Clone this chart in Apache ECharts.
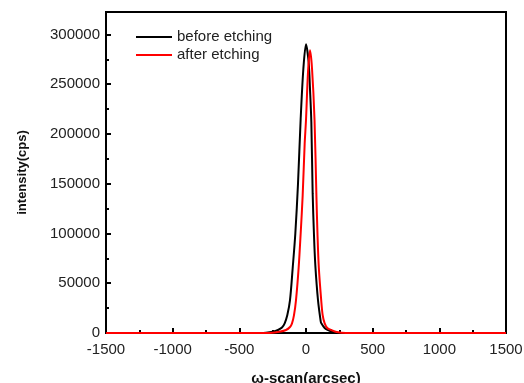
<!DOCTYPE html>
<html>
<head>
<meta charset="utf-8">
<script src="https://cdn.jsdelivr.net/npm/echarts@6/dist/echarts.min.js"></script>
<style>
    html, body { margin: 0; padding: 0; background: #fff; }
    #chart { width: 524px; height: 383px; }
</style>
</head>
<body>
<div id="chart"></div>
<script>
// ω-scan (arcsec) vs intensity (cps)
const beforeX = [-1500, -1000, -500, -350, -300, -250, -210, -180, -160, -140, -120, -100, -80, -60, -40, -20, 0, 20, 30, 40, 50, 60, 70, 90, 110, 115, 140, 165, 200, 250, 500, 1000, 1500];
const beforeY = [0, 0, 0, 0, 200, 1200, 3000, 5500, 9700, 18000, 33000, 65000, 100000, 150000, 215000, 265000, 290000, 272000, 245000, 212000, 140000, 98000, 68000, 33000, 12000, 9700, 5000, 3000, 1000, 0, 0, 0, 0];

const afterX = [-1500, -1000, -500, -300, -250, -200, -150, -120, -105, -90, -75, -55, -40, -25, -10, 0, 15, 30, 45, 64, 78, 86, 96, 114, 125, 140, 160, 190, 230, 300, 500, 1000, 1500];
const afterY = [0, 0, 0, 0, 300, 1200, 3000, 6000, 9700, 18000, 33000, 66000, 100000, 138000, 190000, 214000, 262000, 284000, 266000, 214000, 138000, 100000, 66000, 33000, 18000, 9700, 5000, 3000, 1000, 0, 0, 0, 0];

const seriesNames = ['before etching', 'after etching'];
const seriesColors = ['#000000', '#ff0000'];

const zip = (xs, ys) => xs.map((x, i) => [x, ys[i]]);

const chart = echarts.init(document.getElementById('chart'), null, { renderer: 'canvas' });

const labelFont = { color: '#222', fontSize: 15, fontFamily: 'Liberation Sans, Arial, sans-serif' };

chart.setOption({
    animation: false,
    backgroundColor: '#fff',
    grid: {
        left: 106,
        top: 12,
        right: 18,
        bottom: 50,
        outerBoundsMode: 'none',
        containLabel: false,
        show: true,
        borderColor: '#000',
        borderWidth: 2,
        backgroundColor: 'transparent'
    },
    legend: {
        left: 136,
        top: 28,
        padding: 0,
        orient: 'vertical',
        itemWidth: 36,
        itemHeight: 2,
        itemGap: 0,
        icon: 'rect',
        textStyle: { ...labelFont, lineHeight: 18, padding: [0, 0, 0, 0] },
        data: seriesNames
    },
    xAxis: {
        type: 'value',
        min: -1500,
        max: 1500,
        interval: 500,
        name: 'ω-scan(arcsec)',
        nameLocation: 'middle',
        nameGap: 38,
        nameTextStyle: { ...labelFont, fontSize: 15, fontWeight: 'bold', color: '#111' },
        axisLine: { onZero: false, lineStyle: { color: '#000', width: 2 } },
        axisTick: { inside: true, length: 5, lineStyle: { color: '#000', width: 2 } },
        minorTick: { show: true, splitNumber: 2, length: 3, lineStyle: { color: '#000', width: 2 } },
        axisLabel: { ...labelFont, margin: 9, formatter: v => String(v) },
        splitLine: { show: false }
    },
    yAxis: {
        type: 'value',
        min: 0,
        max: 322500,
        interval: 50000,
        name: 'intensity(cps)',
        nameLocation: 'middle',
        nameGap: 77,
        nameTextStyle: { ...labelFont, fontSize: 13, fontWeight: 'bold', color: '#111' },
        axisLine: { onZero: false, lineStyle: { color: '#000', width: 2 } },
        axisTick: { inside: true, length: 5, lineStyle: { color: '#000', width: 2 } },
        minorTick: { show: true, splitNumber: 2, length: 3, lineStyle: { color: '#000', width: 2 } },
        axisLabel: { ...labelFont, margin: 6, showMaxLabel: false, formatter: v => String(v) },
        splitLine: { show: false }
    },
    series: [
        {
            name: seriesNames[0],
            type: 'line',
            data: zip(beforeX, beforeY),
            smooth: 0.3,
            showSymbol: false,
            lineStyle: { color: seriesColors[0], width: 2 },
            itemStyle: { color: seriesColors[0] },
            z: 2
        },
        {
            name: seriesNames[1],
            type: 'line',
            data: zip(afterX, afterY),
            smooth: 0.3,
            showSymbol: false,
            lineStyle: { color: seriesColors[1], width: 2 },
            itemStyle: { color: seriesColors[1] },
            z: 3
        }
    ]
});
</script>
</body>
</html>
